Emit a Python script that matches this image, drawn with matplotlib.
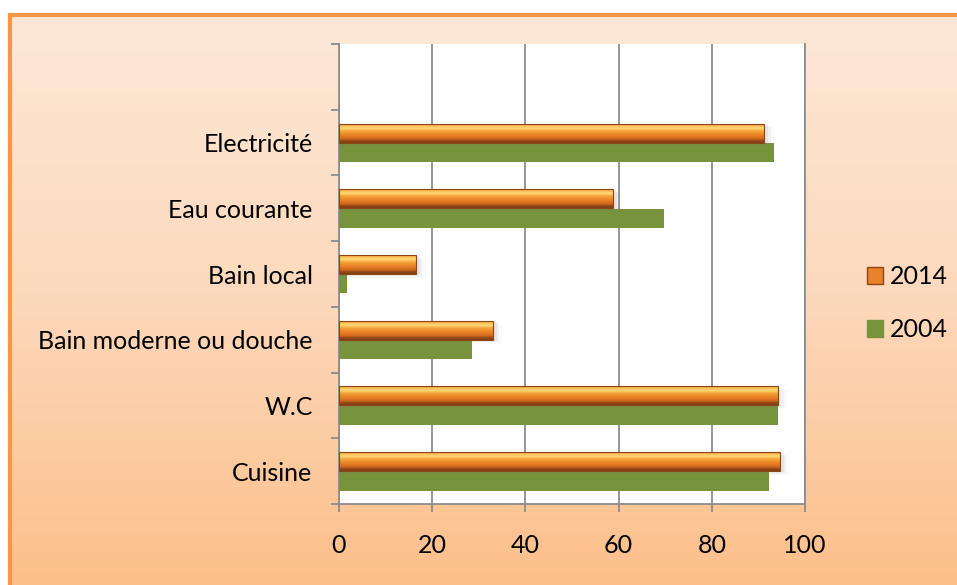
import numpy as np
import matplotlib.pyplot as plt
from matplotlib.colors import LinearSegmentedColormap
from matplotlib.patches import Rectangle, Patch

plt.rcParams['font.family'] = ['Lato', 'DejaVu Sans']

# data (top slot is left empty in the original)
categories = ['Cuisine', 'W.C', 'Bain moderne ou douche', 'Bain local',
              'Eau courante', 'Electricité', '']
vals_2014 = [94.6, 94.1, 33.0, 16.5, 58.8, 91.3, np.nan]
vals_2004 = [92.2, 94.1, 28.6, 1.8, 69.7, 93.3, np.nan]
xticks = [0, 20, 40, 60, 80, 100]

W, H = 957, 585
FS = 18
fig = plt.figure(figsize=(W / 100, H / 100), dpi=100)

# background gradient + orange border (left and top edges only)
bg = fig.add_axes([0, 0, 1, 1], zorder=-10)
bg_cmap = LinearSegmentedColormap.from_list('bg', ['#FDE9D9', '#FCD9BC', '#FDBF8A'])
bg.imshow(np.linspace(0, 1, 256).reshape(-1, 1), aspect='auto', cmap=bg_cmap,
          extent=[0, 1, 0, 1], origin='upper')
bg.set_xlim(0, 1)
bg.set_ylim(0, 1)
bg.axis('off')
bg.add_patch(Rectangle((0, 0), 10 / W, 1, color='white', transform=bg.transAxes))
bg.add_patch(Rectangle((0, 1 - 15 / H), 1, 15 / H, color='white', transform=bg.transAxes))
bg.plot([10 / W, 10 / W, 1.01], [-0.01, 1 - 15 / H, 1 - 15 / H], color='#F79646', lw=3,
        transform=bg.transAxes, solid_joinstyle='miter')

ax = fig.add_axes([339 / W, 1 - 504 / H, (805 - 339) / W, (504 - 44) / H])
ax.set_facecolor('white')

y = np.arange(len(categories))
h = 0.29
b04 = ax.barh(y - 0.15, vals_2004, height=h, color='#77933C', zorder=3)
b14 = ax.barh(y + 0.145, vals_2014, height=h, color='#E8822A', zorder=4)

# bevelled orange look: vertical gradient clipped to each bar + soft shadow
orange = LinearSegmentedColormap.from_list('orange', [
    (0.0, '#F08A2C'), (0.12, '#FBB54E'), (0.26, '#FFDC78'), (0.40, '#F5A23A'),
    (0.65, '#E57C24'), (0.80, '#CF6A1E'), (0.88, '#9A4B18'), (1.0, '#7E3E14')])
grad = np.linspace(0, 1, 64).reshape(-1, 1)
for bar in b14:
    x0, y0 = bar.get_x(), bar.get_y()
    w, bh = bar.get_width(), bar.get_height()
    if np.isnan(w):
        continue
    for k, a in enumerate([0.10, 0.07, 0.04]):
        d = 0.5 + 0.6 * k
        ax.add_patch(Rectangle((x0 + 0.3, y0 - 0.02 - 0.02 * k), w + d, bh, color='gray',
                               alpha=a, lw=0, zorder=3.5))
    im = ax.imshow(grad, aspect='auto', cmap=orange, extent=[x0, x0 + w, y0, y0 + bh],
                   origin='upper', zorder=4.5, interpolation='bilinear')
    im.set_clip_path(bar)
    ax.add_patch(Rectangle((x0, y0), w, bh, fill=False, edgecolor='#8C4516',
                           lw=0.8, zorder=5))

ax.set_xlim(0, 100)
ax.set_ylim(-0.5, len(categories) - 0.5)
ax.set_xticks(xticks)
ax.set_xticklabels([str(t) for t in xticks], fontsize=FS)
ax.set_yticks(np.arange(len(categories) + 1) - 0.5)
ax.set_yticklabels([])
ax.set_yticks(y, minor=True)
ax.set_yticklabels(categories, minor=True, fontsize=FS)
ax.tick_params(axis='y', which='minor', length=0, pad=19)
ax.tick_params(axis='y', which='major', length=5.8, width=1.3, color='#8C8C8C')
ax.tick_params(axis='x', length=5.8, width=1.3, color='#8C8C8C', pad=16)
ax.grid(axis='x', color='#8C8C8C', lw=1.3, zorder=1)
for s in ['top', 'right']:
    ax.spines[s].set_visible(False)
for s in ['left', 'bottom']:
    ax.spines[s].set_color('#8C8C8C')
    ax.spines[s].set_linewidth(1.3)
ax.plot([1, 1], [0, 1], transform=ax.transAxes, color='#8C8C8C', lw=1.3, zorder=6,
        clip_on=False)

handles = [Patch(facecolor='#E8822A', edgecolor='#8C4516', label='2014'),
           Patch(facecolor='#77933C', edgecolor='#77933C', label='2004')]
fig.legend(handles=handles, loc='center left', bbox_to_anchor=(844 / W, 1 - 303 / H),
           frameon=False, fontsize=FS, handlelength=0.65, handleheight=0.65,
           handletextpad=0.3, labelspacing=1.2)

fig.savefig('out.png', dpi=100)
